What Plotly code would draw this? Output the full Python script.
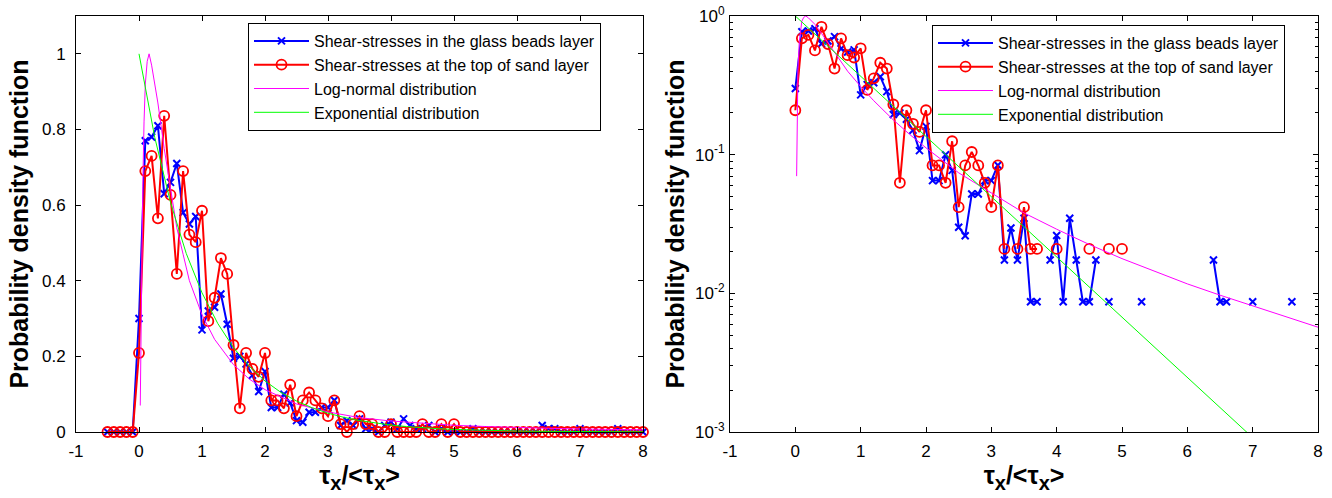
import plotly.graph_objects as go

# ---------------- data ----------------
tau = [-0.5, -0.4, -0.3, -0.2, -0.1,
       0.0, 0.1, 0.2, 0.3, 0.4, 0.5, 0.6, 0.7, 0.8, 0.9,
       1.0, 1.1, 1.2, 1.3, 1.4, 1.5, 1.6, 1.7, 1.8, 1.9,
       2.0, 2.1, 2.2, 2.3, 2.4, 2.5, 2.6, 2.7, 2.8, 2.9,
       3.0, 3.1, 3.2, 3.3, 3.4, 3.5, 3.6, 3.7, 3.8, 3.9,
       4.0, 4.1, 4.2, 4.3, 4.4, 4.5, 4.6, 4.7, 4.8, 4.9,
       5.0, 5.1, 5.2, 5.3, 5.4, 5.5, 5.6, 5.7, 5.8, 5.9,
       6.0, 6.1, 6.2, 6.3, 6.4, 6.5, 6.6, 6.7, 6.8, 6.9,
       7.0, 7.1, 7.2, 7.3, 7.4, 7.5, 7.6, 7.7, 7.8, 7.9,
       8.0]

pdf_glass = [0, 0, 0, 0, 0,
             0.30, 0.77, 0.78, 0.81, 0.63, 0.66, 0.71, 0.58, 0.55, 0.57,
             0.27, 0.32, 0.33, 0.365, 0.285, 0.195, 0.20, 0.18, 0.15, 0.107,
             0.16, 0.065, 0.065, 0.10, 0.077, 0.030, 0.026, 0.052, 0.052, 0.065,
             0.065, 0.084, 0.0174, 0.0296, 0.0174, 0.0348, 0.0087, 0.0087, 0, 0.0174,
             0.0261, 0.0087, 0.0348, 0.0174, 0.0087, 0.0087, 0.0174, 0, 0.0087, 0,
             0, 0, 0, 0.0087, 0, 0, 0, 0, 0, 0,
             0, 0, 0, 0, 0.0174, 0.0087, 0.0087, 0, 0, 0,
             0.0087, 0, 0, 0, 0, 0, 0.0087, 0, 0, 0,
             0]

pdf_sand = [0, 0, 0, 0, 0,
            0.209, 0.69, 0.73, 0.565, 0.836, 0.627, 0.418, 0.69, 0.522, 0.502,
            0.585, 0.293, 0.355, 0.46, 0.418, 0.23, 0.0627, 0.209, 0.167, 0.146,
            0.209, 0.0836, 0.0836, 0.0627, 0.125, 0.0418, 0.0836, 0.1045, 0.0836, 0.0627,
            0.0418, 0.0836, 0.0209, 0, 0.0209, 0.0418, 0.0209, 0.0209, 0, 0,
            0.0209, 0, 0, 0, 0, 0.0209, 0, 0, 0.0209, 0,
            0.0209, 0, 0, 0, 0, 0, 0, 0, 0, 0,
            0, 0, 0, 0, 0, 0, 0, 0, 0, 0,
            0, 0, 0, 0, 0, 0, 0, 0, 0, 0,
            0]

lognorm_x = [0.02, 0.03, 0.04, 0.06, 0.08, 0.10, 0.13, 0.16, 0.20, 0.25,
             0.30, 0.40, 0.50, 0.60, 0.70, 0.80, 1.00, 1.20, 1.50, 1.75,
             2.00, 2.50, 3.00, 3.50, 4.00, 4.50, 5.00, 5.50, 6.00, 6.50,
             7.00, 7.50, 8.00]
lognorm_y = [0.07, 0.25, 0.42, 0.65, 0.82, 0.92, 0.98, 1.00, 0.97, 0.92,
             0.87, 0.75, 0.64, 0.54, 0.47, 0.40, 0.31, 0.245, 0.178, 0.14,
             0.112, 0.074, 0.053, 0.038, 0.029, 0.0225, 0.0178, 0.0145, 0.0117, 0.0097,
             0.0081, 0.0068, 0.0057]

expo_x = [0.0, 0.25, 0.5, 0.75, 1.0, 1.25, 1.5, 1.75, 2.0, 2.25, 2.5, 2.75,
          3.0, 3.25, 3.5, 3.75, 4.0, 4.25, 4.5, 4.75, 5.0, 5.25, 5.5, 5.75,
          6.0, 6.25, 6.5, 6.75, 7.0, 7.25, 7.5, 7.75, 8.0]
expo_y = [1.0, 0.779, 0.607, 0.472, 0.368, 0.287, 0.223, 0.174, 0.135, 0.105,
          0.082, 0.064, 0.0498, 0.0388, 0.0302, 0.0235, 0.0183, 0.0143, 0.0111,
          0.00865, 0.00674, 0.00525, 0.00409, 0.00318, 0.00248, 0.00193, 0.0015,
          0.00117, 0.000912, 0.00071, 0.00055, 0.00043, 0.000335]

names = ["Shear-stresses in the glass beads layer",
         "Shear-stresses at the top of sand layer",
         "Log-normal distribution",
         "Exponential distribution"]

x_ticks = [-1, 0, 1, 2, 3, 4, 5, 6, 7, 8]
x_ticktext = ["-1", "0", "1", "2", "3", "4", "5", "6", "7", "8"]
log_tickvals = [0.001, 0.01, 0.1, 1]
log_ticktext = ["10<sup>-3</sup>", "10<sup>-2</sup>", "10<sup>-1</sup>", "10<sup>0</sup>"]

# ---------------- figure ----------------
FONT = "Liberation Sans, Arial, sans-serif"
BLUE, RED, MAG, GRN = "#0000ff", "#ff0000", "#ff00ff", "#00ff00"


def nz(vals):
    return [v if v > 0 else None for v in vals]


fig = go.Figure()

for panel in (1, 2):
    xa = "x" if panel == 1 else "x2"
    ya = "y" if panel == 1 else "y2"
    lg = "legend" if panel == 1 else "legend2"
    g = pdf_glass if panel == 1 else nz(pdf_glass)
    s = pdf_sand if panel == 1 else nz(pdf_sand)
    fig.add_trace(go.Scatter(
        x=tau, y=g, mode="lines+markers", name=names[0], xaxis=xa, yaxis=ya,
        legend=lg, cliponaxis=False,
        line=dict(color=BLUE, width=2),
        marker=dict(symbol="x-thin", size=7, color=BLUE,
                    line=dict(color=BLUE, width=2))))
    fig.add_trace(go.Scatter(
        x=tau, y=s, mode="lines+markers", name=names[1], xaxis=xa, yaxis=ya,
        legend=lg, cliponaxis=False,
        line=dict(color=RED, width=2),
        marker=dict(symbol="circle-open", size=10, color=RED,
                    line=dict(color=RED, width=1.8))))
    fig.add_trace(go.Scatter(
        x=lognorm_x, y=lognorm_y, mode="lines", name=names[2], xaxis=xa,
        yaxis=ya, legend=lg,
        line=dict(color=MAG, width=1)))
    fig.add_trace(go.Scatter(
        x=expo_x, y=expo_y, mode="lines", name=names[3], xaxis=xa,
        yaxis=ya, legend=lg,
        line=dict(color=GRN, width=1)))

W, H = 1332, 498
TOP, BOT = 16, 432
L1, R1 = 76, 643
L2, R2 = 730, 1318
ydom = [(H - BOT) / H, (H - TOP) / H]

axis_common = dict(
    showline=True, linecolor="black", linewidth=1, mirror="ticks",
    ticks="inside", ticklen=5, tickwidth=1, tickcolor="black",
    showgrid=False, zeroline=False, automargin=False,
    tickfont=dict(family=FONT, size=17, color="black"),
)
SUBX = '<sub><span style="font-size:20px">x</span></sub>'
xtitle = "<b>τ" + SUBX + "/&lt;τ" + SUBX + "&gt;</b>"
ytitle = "<b>Probability density function</b>"

fig.update_layout(
    width=W, height=H,
    margin=dict(l=0, r=0, t=0, b=0, autoexpand=False),
    paper_bgcolor="white", plot_bgcolor="white",
    font=dict(family=FONT, color="black"),
    xaxis=dict(domain=[L1 / W, R1 / W], anchor="y", range=[-1, 8],
               tickmode="array", tickvals=x_ticks, ticktext=x_ticktext,
               ticklabelstandoff=4,
               title=dict(text=xtitle, font=dict(size=25), standoff=2),
               **axis_common),
    yaxis=dict(domain=ydom, anchor="x", range=[0, 1.1], tick0=0, dtick=0.2,
               ticklabelstandoff=6,
               title=dict(text=ytitle, font=dict(size=25), standoff=6),
               **axis_common),
    xaxis2=dict(domain=[L2 / W, R2 / W], anchor="y2", range=[-1, 8],
                tickmode="array", tickvals=x_ticks, ticktext=x_ticktext,
                ticklabelstandoff=4,
                title=dict(text=xtitle, font=dict(size=25), standoff=2),
                **axis_common),
    yaxis2=dict(domain=ydom, anchor="x2", type="log", range=[-3, 0],
                tickmode="array", tickvals=log_tickvals, ticktext=log_ticktext,
                ticklabelstandoff=1,
                minor=dict(ticks="inside", ticklen=3, tickcolor="black",
                           dtick="D1", showgrid=False),
                title=dict(text=ytitle, font=dict(size=25), standoff=3),
                **axis_common),
    legend=dict(x=248 / W, y=1 - 23 / H, xanchor="left", yanchor="top",
                bgcolor="white", bordercolor="black", borderwidth=1,
                font=dict(family=FONT, size=16, color="black"),
                itemwidth=55, tracegroupgap=0),
    legend2=dict(x=932 / W, y=1 - 25 / H, xanchor="left", yanchor="top",
                 bgcolor="white", bordercolor="black", borderwidth=1,
                 font=dict(family=FONT, size=16, color="black"),
                 itemwidth=55, tracegroupgap=0),
    showlegend=True,
)

fig.write_html("out.html")
